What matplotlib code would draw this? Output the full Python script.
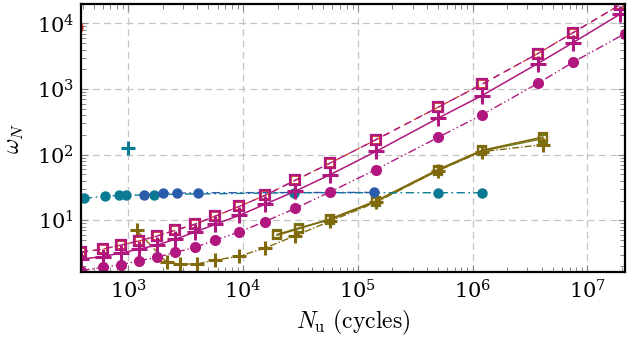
import matplotlib
matplotlib.use("Agg")
import matplotlib.pyplot as plt

plt.rcParams['mathtext.fontset'] = 'cm'
plt.rcParams['font.family'] = ['DejaVu Serif']

# magenta series (shared cycle counts)
n_mag = [390, 600, 860, 1240, 1770, 2570, 3800, 5750, 9300, 15500, 28600,
         57700, 1.44e5, 5.0e5, 1.2e6, 3.7e6, 7.5e6, 1.94e7]
w_sq = [3.27, 3.64, 4.18, 4.85, 5.73, 7.05, 8.7, 11.6, 16.3, 23.9, 40.8,
        74.8, 169, 528, 1178, 3477, 7230, 19400]
w_plus = [2.56, 2.8, 3.16, 3.64, 4.18, 5.15, 6.58, 8.7, 11.9, 17.5, 27.8,
          49.8, 112, 360, 791, 2450, 5100, 14000]
n_circ = [390, 600, 860, 1240, 1770, 2570, 3800, 5750, 9300, 15500, 28600,
          57700, 1.44e5, 5.0e5, 1.2e6, 3.7e6, 7.5e6, 2.12e7]
w_circ = [1.71, 1.92, 2.08, 2.42, 2.72, 3.24, 3.86, 4.98, 6.65, 9.56, 15.2,
          27.2, 59.3, 183, 403, 1219, 2566, 6980]

# teal / blue circles
n_teal = [411, 627, 835, 955, 1674, 27700, 4.96e5, 1.2e6]
w_teal = [21.5, 23.3, 23.9, 23.9, 24.7, 26.3, 26.3, 26.3]
n_blue = [1370, 1993, 2670, 4018, 1.38e5]
w_blue = [24.7, 26.3, 25.8, 26.3, 26.6]
n_teal_plus = [1000]
w_teal_plus = [128]

# red open circle at top left
n_red = [350]
w_red = [8700]

# olive series
n_ol_plus = [1183, 2161, 2820, 3943, 5690, 9206, 15510, 28310, 57200,
             1.438e5, 4.985e5, 1.2e6, 4.09e6]
w_ol_plus = [7.05, 2.29, 2.15, 2.15, 2.48, 2.82, 3.77, 5.78, 9.66,
             18.7, 57.3, 111, 142]
n_ol_sq = [19860, 30870, 57700, 1.438e5, 5.0e5, 1.2e6, 4.09e6]
w_ol_sq = [5.93, 7.48, 10.5, 19.7, 59.3, 116, 185]
w_gr_sq = [6.1, 7.7, 10.2, 19.2, 57, 113, 175]

magenta = "#b0177f"
red = "#d0392a"
olive = "#806a0c"
green = "#6f7a1e"
teal = "#0b7b93"
blue = "#2b5cab"

fig = plt.figure(figsize=(6.32, 3.46), dpi=100)
ax = fig.add_axes([0.128, 0.214, 0.861, 0.774])

# olive
ax.plot(n_ol_sq, w_gr_sq, color=green, lw=1.0, marker="s", ms=6, mfc="none", mew=1.6)
ax.plot(n_ol_plus, w_ol_plus, color=olive, lw=1.0, ls=(0, (5, 1.5, 1, 1.5)),
        marker="+", ms=10, mew=2.2)
ax.plot(n_ol_sq, w_ol_sq, color=olive, lw=1.2, marker="s", ms=6, mfc="none", mew=1.6)

# teal / blue
ax.plot(n_teal, w_teal, color=teal, lw=1.0, ls=(0, (6, 2.5, 1.2, 2.5)),
        marker="o", ms=7.5, mec="none")
ax.plot(n_blue, w_blue, color=blue, lw=1.0, ls=(0, (6, 2.5, 1.2, 2.5)),
        marker="o", ms=7.5, mec="none")
ax.plot(n_teal_plus, w_teal_plus, color=teal, ls="none", marker="+", ms=10, mew=2.2)

# magenta
ax.plot(n_mag, w_sq, color=red, lw=0.9, ls=(0, (5, 4)),
        marker="s", ms=5.5, mfc="none", mew=1.3)
ax.plot(n_mag, w_sq, color=magenta, lw=1.0, ls=(0, (5, 4)),
        marker="s", ms=7.5, mfc="none", mew=1.6)
ax.plot(n_mag, w_plus, color=magenta, lw=1.1, marker="+", ms=11, mew=2.2)
ax.plot(n_circ, w_circ, color=magenta, lw=1.0, ls=(0, (6, 2, 1, 2, 1, 2)),
        marker="o", ms=8, mec="none")

ax.plot(n_red, w_red, color=red, ls="none", marker="o", ms=9, mfc="none", mew=1.3)

ax.set_xscale("log")
ax.set_yscale("log")
ax.set_xlim(387, 2.13e7)
ax.set_ylim(1.63, 1.97e4)

ax.grid(True, which="major", color="#c4c4c4", lw=0.9, ls=(0, (5.5, 3.5)))
ax.set_axisbelow(True)
ax.tick_params(which="both", direction="in", top=True, right=True,
               color="#888888", labelsize=15)
ax.tick_params(which="major", length=5, width=0.8, pad=5)
ax.tick_params(which="minor", length=3.5, width=0.7)
for s in ax.spines.values():
    s.set_linewidth(1.6)

ax.set_xlabel(r"$N_\mathrm{u}\ \mathrm{(cycles)}$", fontsize=17, labelpad=4)
ax.set_ylabel(r"$\omega_N$", fontsize=17, labelpad=8)

fig.savefig("out.png", dpi=100)
